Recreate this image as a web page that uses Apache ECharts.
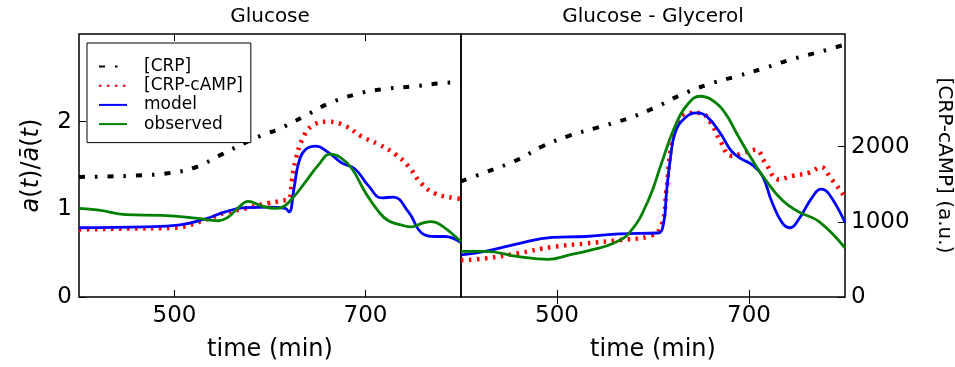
<!DOCTYPE html>
<html>
<head>
<meta charset="utf-8">
<script src="https://cdn.jsdelivr.net/npm/echarts@6/dist/echarts.min.js"></script>
<style>
  html, body { margin: 0; padding: 0; background: #fff; }
  #chart { width: 955px; height: 367px; }
</style>
</head>
<body>
<div id="chart"></div>
<script>
// [time (min), a(t)/mean a(t)]
const glucoseCrp = [[400,1.37],[430,1.375],[460,1.385],[495,1.415],[522,1.48],[550,1.63],[578,1.78],[595,1.86],[608,1.91],[634,2.05],[660,2.20],[689,2.31],[717,2.37],[748,2.40],[780,2.44],[800,2.45]];
const glucoseCamp = [[400,0.77],[450,0.78],[500,0.79],[532,0.88],[553,0.96],[574,1.01],[598,1.07],[613,1.10],[620,1.12],[623,1.34],[627,1.57],[634,1.80],[644,1.95],[661,2.00],[679,1.95],[696,1.83],[714,1.74],[731,1.63],[745,1.49],[759,1.29],[773,1.18],[792,1.13],[800,1.12]];
const glucoseModel = [[400,0.79],[469,0.80],[504,0.82],[532,0.89],[553,0.97],[574,1.02],[599,1.025],[616,1.01],[620,0.97],[625,1.23],[630,1.53],[637,1.68],[648,1.72],[661,1.65],[675,1.53],[689,1.46],[703,1.27],[717,1.13],[729,1.14],[745,0.97],[760,0.72],[773,0.69],[783,0.69],[800,0.62]];
const glucoseObserved = [[400,1.01],[421,0.99],[449,0.94],[487,0.93],[522,0.90],[546,0.87],[556,0.91],[567,1.02],[577,1.09],[591,1.04],[605,1.01],[613,1.025],[623,1.12],[637,1.31],[651,1.51],[663,1.63],[674,1.59],[686,1.46],[700,1.19],[714,0.97],[724,0.87],[738,0.82],[748,0.80],[759,0.84],[769,0.86],[779,0.82],[800,0.63]];

const glycerolCrp = [[400,1.32],[425,1.42],[460,1.57],[485,1.72],[513,1.84],[541,1.93],[572,2.03],[600,2.15],[628,2.30],[656,2.42],[688,2.52],[716,2.61],[744,2.71],[775,2.80],[800,2.88]];
const glycerolCamp = [[400,0.42],[425,0.44],[460,0.50],[495,0.57],[530,0.61],[565,0.65],[598,0.70],[609,0.82],[614,1.22],[619,1.72],[626,1.99],[637,2.10],[649,2.10],[660,1.99],[670,1.78],[682,1.61],[696,1.65],[707,1.68],[717,1.53],[731,1.34],[745,1.38],[763,1.42],[775,1.48],[785,1.36],[800,1.14]];
const glycerolModel = [[400,0.48],[425,0.52],[460,0.61],[495,0.68],[530,0.69],[565,0.72],[605,0.73],[611,0.84],[614,1.19],[618,1.57],[623,1.87],[633,2.04],[646,2.10],[656,2.06],[670,1.87],[682,1.66],[693,1.57],[703,1.51],[714,1.38],[724,1.08],[735,0.84],[743,0.79],[752,0.89],[766,1.14],[775,1.23],[783,1.18],[800,0.85]];
const glycerolObserved = [[400,0.52],[425,0.52],[460,0.46],[491,0.43],[513,0.48],[537,0.54],[558,0.61],[576,0.74],[595,1.10],[609,1.53],[623,1.95],[637,2.21],[649,2.29],[661,2.25],[675,2.10],[689,1.83],[703,1.57],[717,1.34],[735,1.10],[752,0.97],[773,0.86],[800,0.56]];

const timeTicks = [500, 700];
const ratioTicks = [0, 1, 2];
const campTicks = [0, 1000, 2000];

const font = 'DejaVu Sans';

const styles = {
  '[CRP]': { color: '#000', width: 4, type: [6, 10, 2.5, 10] },
  '[CRP-cAMP]': { color: '#ff0000', width: 4.5, type: [2.5, 5.5] },
  'model': { color: '#0000ff', width: 2.8, type: 'solid' },
  'observed': { color: '#008000', width: 2.8, type: 'solid' }
};

function line(name, data, xi, yi) {
  const s = styles[name];
  return {
    name: name,
    type: 'line',
    xAxisIndex: xi,
    yAxisIndex: yi,
    data: data,
    showSymbol: false,
    symbol: 'none',
    smooth: 0.45,
    color: s.color,
    lineStyle: { color: s.color, width: s.width, type: s.type, cap: 'butt' },
    animation: false
  };
}

function timeAxis(gi, pos, labels) {
  return {
    type: 'value', gridIndex: gi, position: pos, min: 400, max: 800,
    name: labels ? 'time (min)' : '',
    nameLocation: 'middle', nameGap: 41,
    nameTextStyle: { fontFamily: font, fontSize: 24, color: '#000' },
    axisLine: { show: false },
    axisTick: { show: true, inside: true, length: 7, customValues: timeTicks, lineStyle: { color: '#000', width: 1 } },
    axisLabel: { show: labels, customValues: timeTicks, margin: 8, fontFamily: font, fontSize: 23, color: '#000' },
    splitLine: { show: false }
  };
}

const chart = echarts.init(document.getElementById('chart'));
chart.setOption({
  animation: false,
  backgroundColor: '#fff',
  title: [
    { text: 'Glucose', left: 270, top: 7, textAlign: 'center', padding: 0,
      textStyle: { fontFamily: font, fontSize: 20, fontWeight: 'normal', color: '#000' } },
    { text: 'Glucose - Glycerol', left: 653, top: 7, textAlign: 'center', padding: 0,
      textStyle: { fontFamily: font, fontSize: 20, fontWeight: 'normal', color: '#000' } }
  ],
  grid: [
    { left: 79, top: 34, width: 382, height: 265, show: true, borderColor: '#000', borderWidth: 1.5, containLabel: false },
    { left: 461, top: 34, width: 384, height: 265, show: true, borderColor: '#000', borderWidth: 1.5, containLabel: false }
  ],
  legend: {
    data: ['[CRP]', '[CRP-cAMP]', 'model', 'observed'],
    orient: 'vertical',
    left: 87, top: 43,
    padding: [15, 8, 10, 11],
    itemWidth: 28, itemHeight: 20, itemGap: 2.2,
    backgroundColor: '#fff',
    borderColor: '#000', borderWidth: 1, borderRadius: 0,
    selectedMode: false,
    itemStyle: { opacity: 0, borderWidth: 0 },
    formatter: '{t|{name}}',
    textStyle: {
      fontFamily: font, fontSize: 17, color: '#000',
      rich: { t: { fontFamily: font, fontSize: 17, color: '#000', lineHeight: 17, padding: [0, 0, 0, 12] } }
    }
  },
  xAxis: [
    timeAxis(0, 'bottom', true),
    timeAxis(0, 'top', false),
    timeAxis(1, 'bottom', true),
    timeAxis(1, 'top', false)
  ],
  yAxis: [
    {
      type: 'value', gridIndex: 0, position: 'left', min: 0, max: 3,
      name: '{i|a}{n|(}{i|t}{n|)/}{i|ā}{n|(}{i|t}{n|)}',
      nameLocation: 'middle', nameRotate: 90, nameGap: 35,
      nameTextStyle: {
        fontFamily: font, fontSize: 24, color: '#000',
        rich: {
          i: { fontFamily: font, fontSize: 24, fontStyle: 'italic', color: '#000' },
          n: { fontFamily: font, fontSize: 24, color: '#000' }
        }
      },
      axisLine: { show: false },
      axisTick: { show: true, inside: true, length: 7, customValues: ratioTicks, lineStyle: { color: '#000' } },
      axisLabel: { customValues: ratioTicks, margin: 7, fontFamily: font, fontSize: 23, color: '#000' },
      splitLine: { show: false }
    },
    {
      type: 'value', gridIndex: 1, position: 'left', min: 0, max: 3, show: false
    },
    {
      type: 'value', gridIndex: 1, position: 'right', min: 0, max: 3500,
      name: '[CRP-cAMP] (a.u.)',
      nameLocation: 'middle', nameRotate: -90, nameGap: 89,
      nameTextStyle: { fontFamily: font, fontSize: 20, color: '#000' },
      axisLine: { show: false },
      axisTick: { show: true, inside: true, length: 7, customValues: campTicks, lineStyle: { color: '#000' } },
      axisLabel: { customValues: campTicks, margin: 6, fontFamily: font, fontSize: 23, color: '#000',
        formatter: function (v) { return String(v); } },
      splitLine: { show: false }
    }
  ],
  series: [
    line('[CRP]', glucoseCrp, 0, 0),
    line('[CRP-cAMP]', glucoseCamp, 0, 0),
    line('model', glucoseModel, 0, 0),
    line('observed', glucoseObserved, 0, 0),
    line('[CRP]', glycerolCrp, 2, 1),
    line('[CRP-cAMP]', glycerolCamp, 2, 1),
    line('model', glycerolModel, 2, 1),
    line('observed', glycerolObserved, 2, 1)
  ]
});
</script>
</body>
</html>
